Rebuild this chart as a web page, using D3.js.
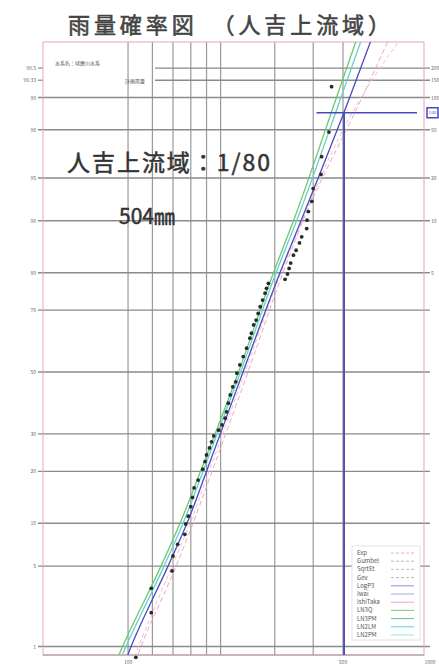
<!DOCTYPE html>
<html>
<head>
<meta charset="utf-8">
<script src="https://cdn.jsdelivr.net/npm/d3@7"></script>
<style>
  body { margin: 0; background: #fff; }
  svg { display: block; font-family: "Noto Sans CJK JP", "Noto Sans", sans-serif; }
</style>
</head>
<body>
<div id="chart"></div>
<script>
// 観測値：雨量(mm) と 非超過確率(%)
var rain = [106, 119, 119, 139, 140, 145, 153, 154, 157, 160, 162, 164, 169, 175, 178, 180, 184, 187, 190, 197,
            202, 207, 209, 212, 215, 219, 224, 226, 231, 237, 243, 249, 252, 256, 261, 265, 269, 274, 279, 282,
            286, 324, 330, 334, 338, 345, 352, 361, 367, 381, 382, 386, 396, 400, 424, 426, 450, 459];
var prob = [0.78, 2.07, 3.34, 4.59, 5.95, 7.21, 8.45, 9.89, 11.1, 12.7, 14.4, 16.3, 18.0, 20.5, 22.4, 24.1, 26.0, 27.7, 29.4, 31.1,
            32.7, 34.8, 36.8, 39.6, 42.3, 45.0, 46.7, 49.6, 52.4, 55.2, 58.0, 61.3, 62.9, 65.5, 67.0, 69.0, 71.0, 72.9, 74.8, 76.1,
            77.4, 78.4, 79.7, 81.0, 82.2, 83.9, 84.9, 86.3, 87.4, 88.8, 90.1, 91.3, 92.6, 94.0, 95.3, 96.6, 97.9, 99.22];

// 確率紙の目盛
var gridProb = [99.5, 99.33, 99, 98, 95, 90, 80, 70, 50, 30, 20, 10, 5, 1];
var gridLabels = ["99.5", "99.33", "99", "98", "95", "90", "80", "70", "50", "30", "20", "10", "5", "1"];
var returnProb = [99.5, 99.33, 99, 98, 95, 90, 80];
var returnLabels = ["200", "150", "100", "50", "20", "10", "5"];
var gridRain = [100, 120, 140, 160, 180, 200, 300, 400, 500];
var rainLabels = [100, 500, 1000];

// 各手法の確率雨量(mm)
var fitProb = [0.5, 1, 5, 10, 20, 50, 80, 90, 99, 99.8];
var fitExp = [99.3, 108.2, 139.0, 159.1, 183.4, 240.2, 314.4, 367.9, 572.1, 795.2];
var fitGumbel = [101.5, 110.2, 143.3, 162.7, 187.6, 245.5, 319.1, 370.7, 576.4, 721.6];
var fitLogP3 = [94.2, 102.3, 134.9, 155.5, 180.0, 236.5, 312.0, 365.2, 525.7, 630.6];
var fitLN3Q = [87.4, 96.0, 128.0, 147.6, 172.1, 228.7, 297.2, 345.1, 476.2, 563.6];
var fitLN2LM = [89.7, 98.5, 130.9, 151.0, 175.4, 232.2, 302.8, 353.3, 492.5, 585.2];

// 凡例
var legendNames = ["Exp", "Gumbel", "SqrtEt", "Gev", "LogP3", "Iwai", "IshiTaka", "LN3Q", "LN3PM", "LN2LM", "LN2PM"];
var legendColors = ["#f0a8c0", "#b8b8b8", "#b8b8b8", "#b8b8b8", "#8c8ce0", "#a8a8e0", "#f0a0c8", "#70d070", "#60c0a0", "#60d0e0", "#a0e8d8"];

// 計画値
var planProb = 98.6, planRain = 504;

// 正規分布の逆関数 (Acklam)
function probit(p) {
    var a = [-39.6968302866538, 220.946098424521, -275.928510446969, 138.357751867269, -30.6647980661472, 2.50662827745924],
        b = [-54.4760987982241, 161.585836858041, -155.698979859887, 66.8013118877197, -13.2806815528857],
        c = [-0.00778489400243029, -0.322396458041136, -2.40075827716184, -2.54973253934373, 4.37466414146497, 2.93816398269878],
        d = [0.00778469570904146, 0.32246712907004, 2.445134137143, 3.75440866190742];
    var q, r;
    if (p < 0.02425) {
        q = Math.sqrt(-2 * Math.log(p));
        return (((((c[0]*q+c[1])*q+c[2])*q+c[3])*q+c[4])*q+c[5]) / ((((d[0]*q+d[1])*q+d[2])*q+d[3])*q+1);
    }
    if (p > 1 - 0.02425) {
        q = Math.sqrt(-2 * Math.log(1 - p));
        return -(((((c[0]*q+c[1])*q+c[2])*q+c[3])*q+c[4])*q+c[5]) / ((((d[0]*q+d[1])*q+d[2])*q+d[3])*q+1);
    }
    q = p - 0.5; r = q * q;
    return (((((a[0]*r+a[1])*r+a[2])*r+a[3])*r+a[4])*r+a[5])*q / (((((b[0]*r+b[1])*r+b[2])*r+b[3])*r+b[4])*r+1);
}

var width = 439, height = 666;
var plot = {left: 43, right: 424, top: 42, bottom: 655};

var svg = d3.select("#chart").append("svg")
    .attr("width", width)
    .attr("height", height);

var x = d3.scaleLog()
    .domain([52.9, 917])
    .range([plot.left, plot.right]);

var yz = d3.scaleLinear()
    .domain([probit(0.00824), probit(0.99742)])
    .range([plot.bottom, plot.top]);
var y = function (p) { return yz(probit(p / 100)); };

svg.append("defs").append("clipPath").attr("id", "clip")
    .append("rect")
    .attr("x", plot.left).attr("y", plot.top)
    .attr("width", plot.right - plot.left).attr("height", plot.bottom - plot.top);

// タイトル
svg.append("text")
    .attr("x", 68).attr("y", 33)
    .attr("textLength", 322).attr("lengthAdjust", "spacing")
    .attr("font-size", 22).attr("fill", "#444")
    .attr("stroke", "#444").attr("stroke-width", 0.6)
    .text("雨量確率図　（人吉上流域）");

// 縦の格子線
svg.append("g").selectAll("line")
    .data(gridRain)
    .enter().append("line")
    .attr("x1", function (d) { return x(d); })
    .attr("x2", function (d) { return x(d); })
    .attr("y1", plot.top).attr("y2", plot.bottom)
    .attr("stroke", "#9a9a9a").attr("stroke-width", 1.2);

// 横の格子線
svg.append("g").selectAll("line")
    .data(gridProb)
    .enter().append("line")
    .attr("x1", function (d) { return d > 99.2 ? 155 : plot.left - 5; })
    .attr("x2", plot.right + 6)
    .attr("y1", function (d) { return y(d); })
    .attr("y2", function (d) { return y(d); })
    .attr("stroke", "#8a8a8a").attr("stroke-width", 1.4);

// 左の目盛
svg.append("g").selectAll("line")
    .data(gridProb.filter(function (d) { return d > 99.2; }))
    .enter().append("line")
    .attr("x1", plot.left - 5).attr("x2", plot.left)
    .attr("y1", function (d) { return y(d); })
    .attr("y2", function (d) { return y(d); })
    .attr("stroke", "#8a8a8a").attr("stroke-width", 1.2);

svg.append("g").selectAll("text")
    .data(gridProb)
    .enter().append("text")
    .attr("x", plot.left - 7)
    .attr("y", function (d) { return y(d) + 2; })
    .attr("text-anchor", "end")
    .attr("font-size", 5).attr("fill", "#666")
    .text(function (d, i) { return gridLabels[i]; });

svg.append("g").selectAll("text")
    .data(returnProb)
    .enter().append("text")
    .attr("x", plot.right + 7)
    .attr("y", function (d) { return y(d) + 2; })
    .attr("font-size", 5).attr("fill", "#666")
    .text(function (d, i) { return returnLabels[i]; });

svg.append("g").selectAll("text")
    .data(rainLabels)
    .enter().append("text")
    .attr("x", function (d) { return Math.min(x(d), width - 1); })
    .attr("y", plot.bottom + 9)
    .attr("text-anchor", function (d) { return x(d) > width - 8 ? "end" : "middle"; })
    .attr("font-size", 5).attr("fill", "#666")
    .text(function (d) { return d; });

// 枠
svg.append("rect")
    .attr("x", plot.left).attr("y", plot.top)
    .attr("width", plot.right - plot.left).attr("height", plot.bottom - plot.top)
    .attr("fill", "none").attr("stroke", "#e6a6b6").attr("stroke-width", 1);
svg.append("line")
    .attr("x1", plot.left).attr("x2", plot.right)
    .attr("y1", plot.bottom).attr("y2", plot.bottom)
    .attr("stroke", "#999").attr("stroke-width", 1.2);

// 左上の注記
svg.append("text").attr("x", 55).attr("y", 65)
    .attr("font-size", 5).attr("fill", "#555").text("水系名：球磨川水系");
svg.append("text").attr("x", 125).attr("y", 83)
    .attr("font-size", 5).attr("fill", "#555").text("計画雨量");

// 適合曲線
var fits = [
    {name: "Exp", values: fitExp, color: "#f4bcd0", width: 1, dash: "4,3"},
    {name: "Gumbel", values: fitGumbel, color: "#eaa8c4", width: 1, dash: "5,3"},
    {name: "LogP3", values: fitLogP3, color: "#4a4ac0", width: 1.3, dash: null},
    {name: "LN3Q", values: fitLN3Q, color: "#6cc86c", width: 1.3, dash: null},
    {name: "LN2LM", values: fitLN2LM, color: "#64d0d0", width: 1.3, dash: null}
];

var line = d3.line()
    .x(function (d) { return x(d[0]); })
    .y(function (d) { return y(d[1]); })
    .curve(d3.curveMonotoneY);

svg.append("g").attr("clip-path", "url(#clip)")
    .selectAll("path")
    .data(fits)
    .enter().append("path")
    .attr("d", function (f) { return line(f.values.map(function (v, i) { return [v, fitProb[i]]; })); })
    .attr("fill", "none")
    .attr("stroke", function (f) { return f.color; })
    .attr("stroke-width", function (f) { return f.width; })
    .attr("stroke-dasharray", function (f) { return f.dash; });

// 計画値の線
svg.append("line")
    .attr("x1", x(planRain)).attr("x2", x(planRain))
    .attr("y1", y(planProb)).attr("y2", plot.bottom)
    .attr("stroke", "#4848b0").attr("stroke-width", 1.8);
svg.append("line")
    .attr("x1", x(410)).attr("x2", x(870))
    .attr("y1", y(planProb)).attr("y2", y(planProb))
    .attr("stroke", "#4848c0").attr("stroke-width", 1.3);
svg.append("rect")
    .attr("x", 427).attr("y", y(planProb) - 5)
    .attr("width", 11).attr("height", 10)
    .attr("fill", "#fff").attr("stroke", "#4848c0").attr("stroke-width", 1.5);
svg.append("text")
    .attr("x", 432.5).attr("y", y(planProb) + 1.5)
    .attr("text-anchor", "middle")
    .attr("font-size", 3.6).attr("fill", "#4848c0")
    .text("1/80");

// 観測値
svg.append("g").selectAll("circle")
    .data(rain)
    .enter().append("circle")
    .attr("cx", function (d) { return x(d); })
    .attr("cy", function (d, i) { return y(prob[i]); })
    .attr("r", 1.9)
    .attr("fill", "#2a2a2a");

// 注記
svg.append("text")
    .attr("x", 67).attr("y", 171)
    .attr("textLength", 203).attr("lengthAdjust", "spacing")
    .attr("font-size", 23).attr("fill", "#333")
    .attr("stroke", "#333").attr("stroke-width", 0.5)
    .text("人吉上流域：1/80");
var t = svg.append("text")
    .attr("x", 119).attr("y", 224)
    .attr("font-size", 21).attr("fill", "#333")
    .attr("stroke", "#333").attr("stroke-width", 0.5);
t.append("tspan").text("504");
t.append("tspan").text("㎜");

// 凡例
var legend = svg.append("g");
legend.append("rect")
    .attr("x", 352).attr("y", 546)
    .attr("width", 68).attr("height", 94)
    .attr("fill", "#fff").attr("stroke", "#ddd").attr("stroke-width", 0.8);
legend.selectAll("text")
    .data(legendNames)
    .enter().append("text")
    .attr("x", 357)
    .attr("y", function (d, i) { return 555 + i * 8.2; })
    .attr("font-size", 6).attr("fill", "#555")
    .text(function (d) { return d; });
legend.selectAll("line")
    .data(legendNames)
    .enter().append("line")
    .attr("x1", 391).attr("x2", 414)
    .attr("y1", function (d, i) { return 553 + i * 8.2; })
    .attr("y2", function (d, i) { return 553 + i * 8.2; })
    .attr("stroke", function (d, i) { return legendColors[i]; })
    .attr("stroke-width", 1)
    .attr("stroke-dasharray", function (d, i) { return i < 4 ? "3,2" : null; });
</script>
</body>
</html>
